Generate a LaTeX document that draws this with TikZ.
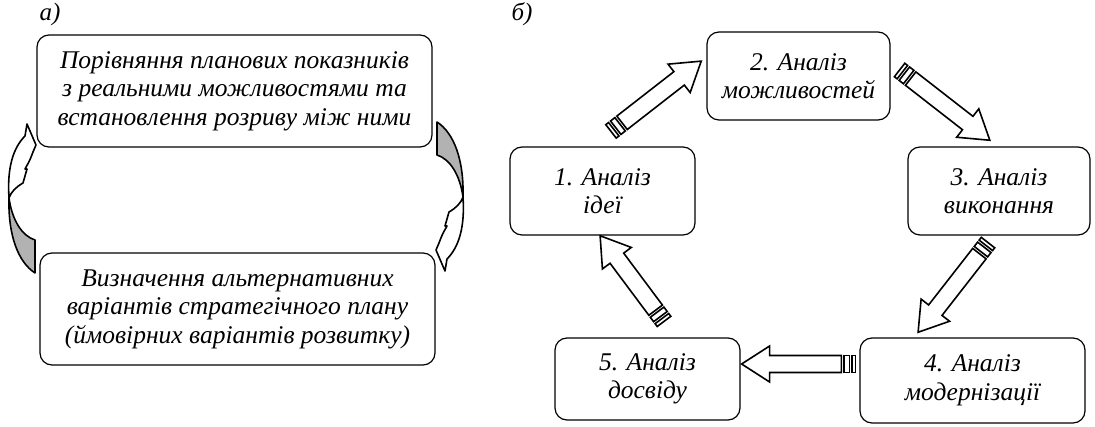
\documentclass[tikz,border=0pt]{standalone}
\usepackage{fontspec}
\setmainfont{Liberation Serif}
\usetikzlibrary{calc}

\tikzset{
  stage/.style={draw, rounded corners=12pt, line width=1.2pt, align=center,
    font=\fontsize{25.5}{28.5}\selectfont\itshape, inner sep=0pt},
  caption/.style={font=\fontsize{25}{28}\selectfont\itshape, inner sep=0pt},
  blockarrow/.style={line width=1.6pt, line join=miter, fill=white},
  ribbon/.style={line width=1.6pt, line join=round, fill=white},
  ribbonback/.style={line width=1.6pt, line join=round, fill=black!30},
}

% striped block arrow from coordinate #1 (tail) to coordinate #2 (tip)
\newcommand\stripedarrow[2]{%
  \pgfpointdiff{\pgfpointanchor{#1}{center}}{\pgfpointanchor{#2}{center}}%
  \pgfgetlastxy{\sadx}{\sady}%
  \pgfmathsetmacro\saAng{atan2(\sady,\sadx)}%
  \pgfmathsetmacro\saLen{veclen(\sadx,\sady)}%
  \pgfmathsetmacro\saNeck{\saLen-28}%
  \begin{scope}[shift={(#1)}, rotate=\saAng, blockarrow]
    \draw (0pt,-8.5pt) rectangle (3.5pt,8.5pt);
    \draw (6pt,-8.5pt) rectangle (11.5pt,8.5pt);
    \draw (14pt,-8.5pt) -- (\saNeck pt,-8.5pt) -- (\saNeck pt,-18pt)
      -- (\saLen pt,0pt) -- (\saNeck pt,18pt) -- (\saNeck pt,8.5pt)
      -- (14pt,8.5pt) -- cycle;
  \end{scope}}

% curved ribbon arrow: shaded back part below, arrow body above
\newcommand\curvedribbon{%
  \draw[ribbonback] (35,240) -- (35,273)
    .. controls (18,262) and (8,235) .. (9,198)
    .. controls (12,220) and (22,236) .. (35,240) -- cycle;
  \draw[ribbon] (9,198) .. controls (7,168) and (13,148) .. (25,136)
    -- (27,124) -- (36,145) -- (33,152)
    .. controls (30,160) .. (25,169) -- (27,169) -- (23,183)
    .. controls (16,187) and (11,192) .. (9,198) -- cycle;}

\begin{document}
\begin{tikzpicture}[x=1pt, y=-1pt]
  \useasboundingbox (0,0) rectangle (1095,427);

  % panel a
  \node[caption] (capa) at (50,14) {а)};
  \node[stage, minimum width=395pt, minimum height=112pt] (plan) at (234.5,91)
    {Порівняння планових показників\\з реальними можливостями та\\встановлення розриву між ними};
  \node[stage, minimum width=395pt, minimum height=112pt] (alt) at (237.5,309)
    {Визначення альтернативних\\варіантів стратегічного плану\\(ймовірних варіантів розвитку)};

  \curvedribbon
  \begin{scope}[rotate around={180:(236,197.5)}]
    \curvedribbon
  \end{scope}

  % panel b
  \node[caption] (capb) at (522,14) {б)};
  \node[stage, minimum width=185pt, minimum height=88pt] (b1) at (602.5,191) {1. Аналіз\\ідеї};
  \node[stage, minimum width=183pt, minimum height=88pt] (b2) at (798.5,76) {2. Аналіз\\можливостей};
  \node[stage, minimum width=182pt, minimum height=88pt] (b3) at (999,191) {3. Аналіз\\виконання};
  \node[stage, minimum width=225pt, minimum height=85pt] (b4) at (972.5,380.5) {4. Аналіз\\модернізації};
  \node[stage, minimum width=185pt, minimum height=82pt] (b5) at (647.5,379) {5. Аналіз\\досвіду};

  \coordinate (a12s) at ($(b1.north)+(8.5,-15)$);
  \coordinate (a12e) at ($(b2.west)+(-5,-15)$);
  \coordinate (a23s) at ($(b2.east)+(9,-6)$);
  \coordinate (a23e) at ($(b3.north)+(-9,-6)$);
  \coordinate (a34s) at ($(b3.south)+(-11,7)$);
  \coordinate (a34e) at ($(b4.north)+(-54.5,-5)$);
  \coordinate (a45s) at ($(b4.west)+(-4,-16.5)$);
  \coordinate (a45e) at ($(b5.east)+(1,-15)$);
  \coordinate (a51s) at ($(b5.north)+(16.5,-16)$);
  \coordinate (a51e) at ($(b1.south)+(-2.5,0)$);

  \stripedarrow{a12s}{a12e}
  \stripedarrow{a23s}{a23e}
  \stripedarrow{a34s}{a34e}
  \stripedarrow{a45s}{a45e}
  \stripedarrow{a51s}{a51e}
\end{tikzpicture}
\end{document}
